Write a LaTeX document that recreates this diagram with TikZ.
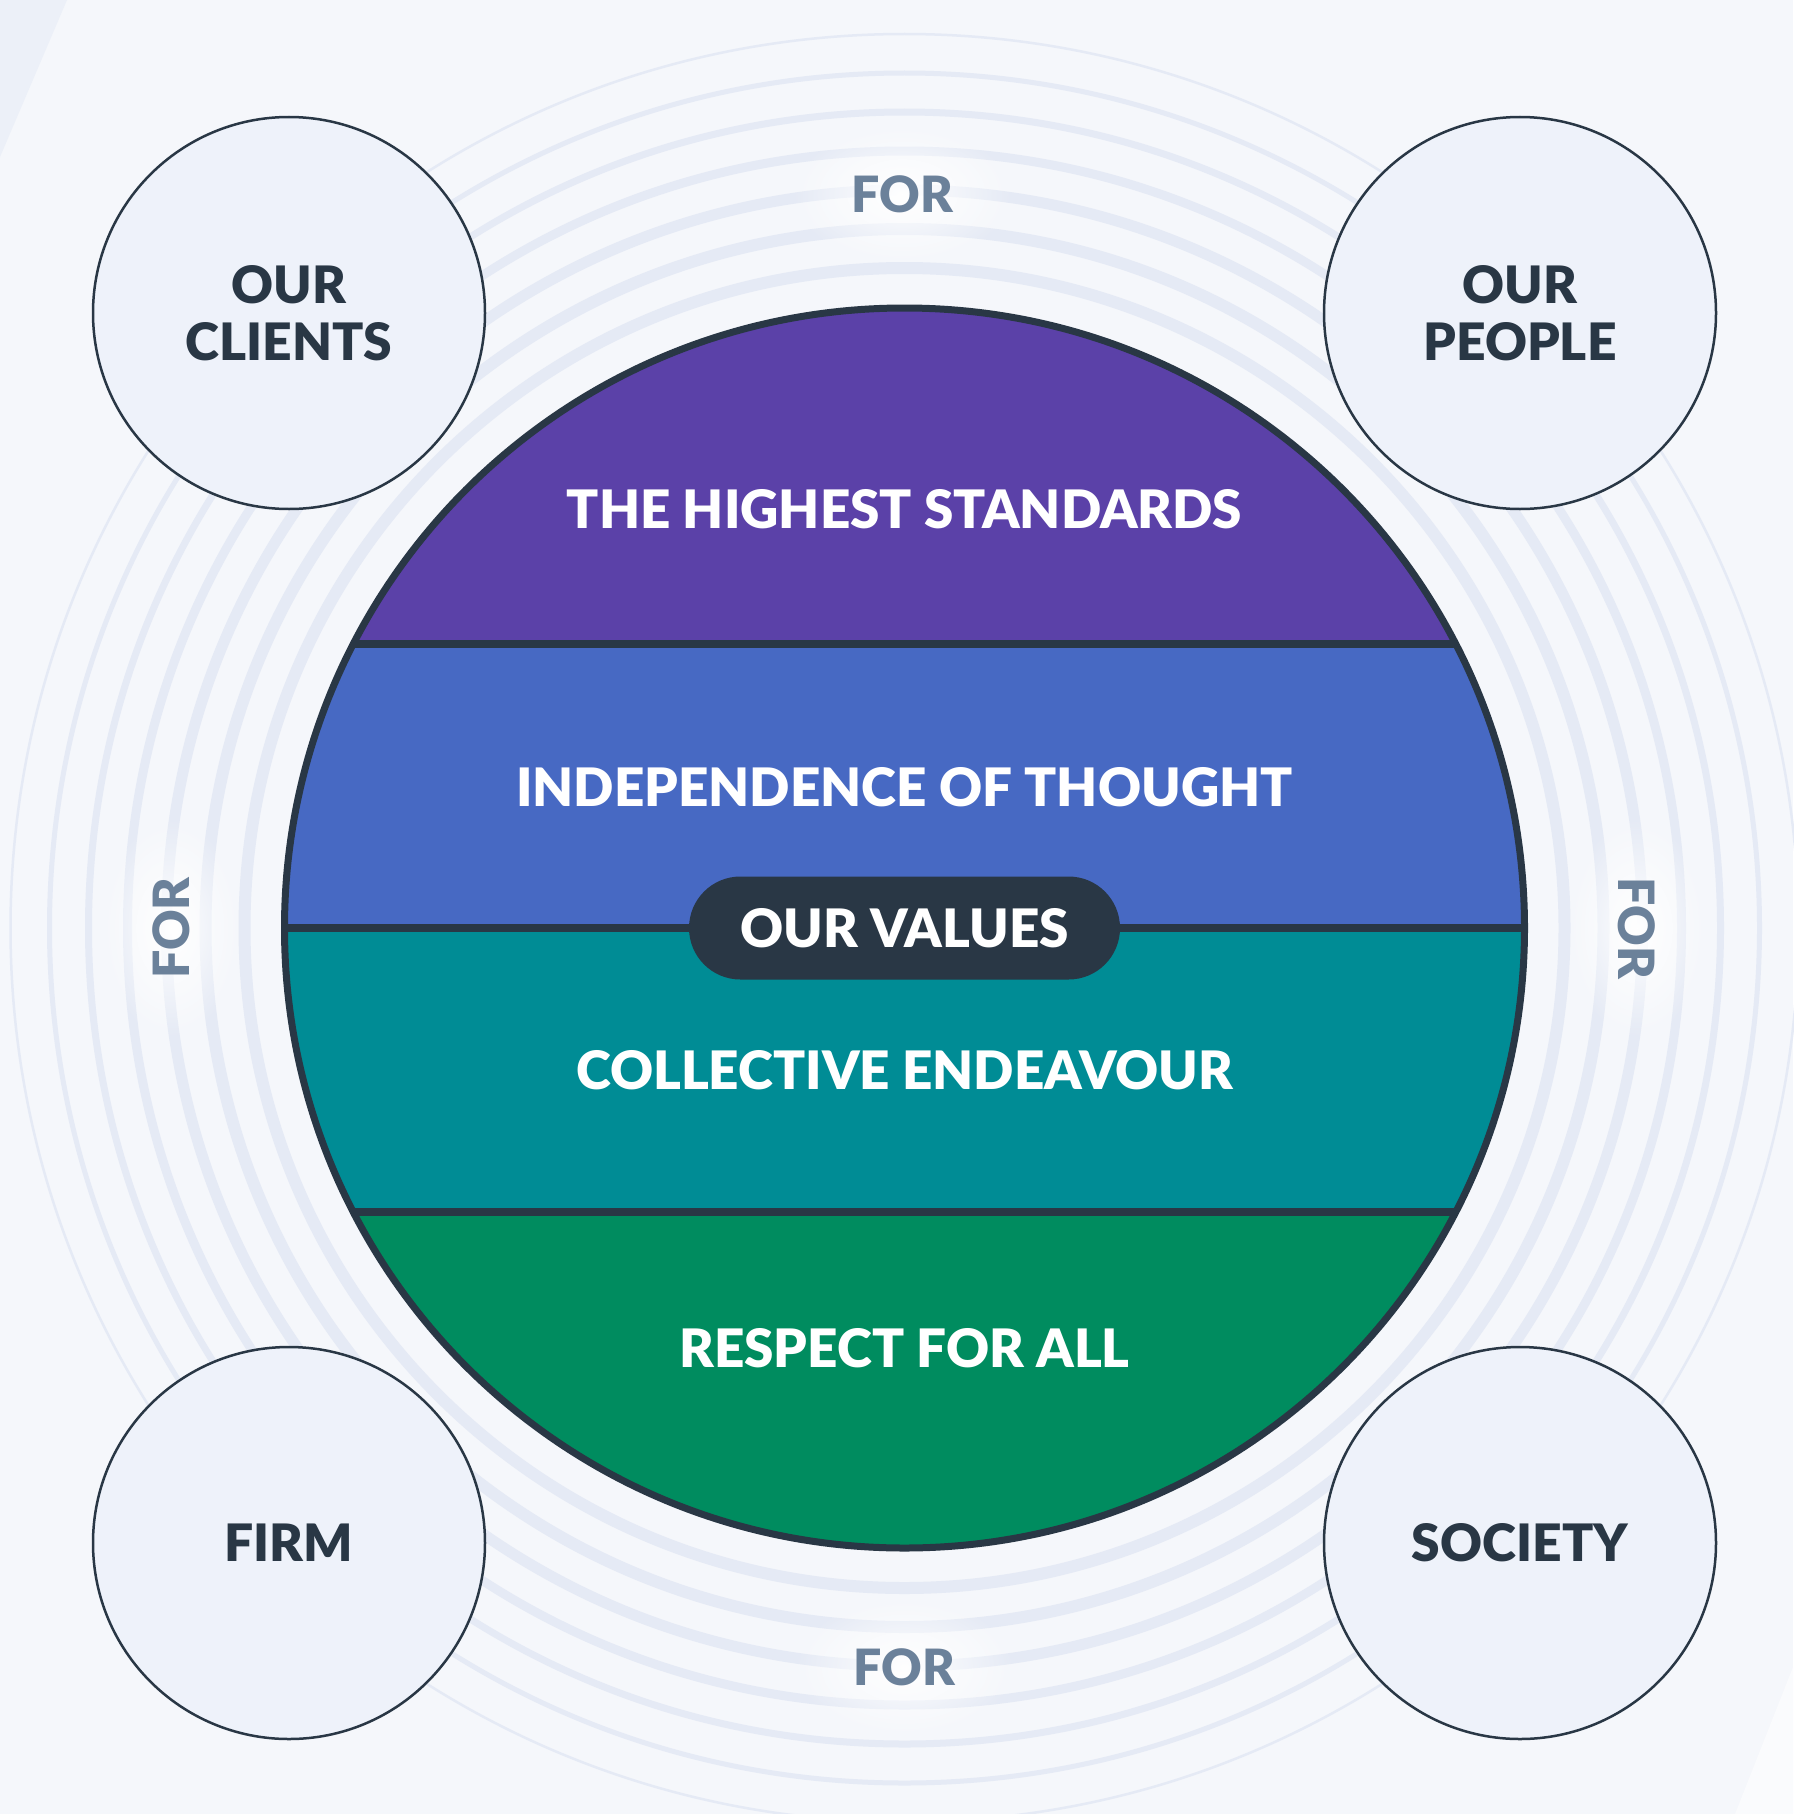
\documentclass[tikz,border=0pt]{standalone}
\usepackage{fontspec}
\setmainfont{Lato}[BoldFont={Lato Black}]
\usetikzlibrary{positioning}
\usetikzlibrary{fadings}

\definecolor{bgcol}{HTML}{F5F7FB}
\definecolor{cornerdark}{HTML}{ECF0F8}
\definecolor{cornerlight}{HTML}{FAFBFD}
\definecolor{ringcol}{HTML}{E5EAF5}
\definecolor{circfill}{HTML}{EEF2FA}
\definecolor{darkcol}{HTML}{293745}
\definecolor{forcol}{HTML}{6B819A}
\definecolor{purplecol}{HTML}{5B41A8}
\definecolor{bluecol}{HTML}{4769C3}
\definecolor{tealcol}{HTML}{008C95}
\definecolor{greencol}{HTML}{008C5F}

\tikzfading[name=glowfade, inner color=transparent!0, outer color=transparent!100]

\tikzset{
  groupcircle/.style={circle, draw=darkcol, line width=1.25pt, fill=circfill,
    minimum size=196pt, inner sep=0pt, align=center, text=darkcol,
    font=\fontsize{25.8}{28.3}\selectfont\bfseries},
  valuetext/.style={text=white, inner sep=0pt, font=\fontsize{26.5}{30}\selectfont\bfseries},
  forlabel/.style={text=forcol, inner sep=0pt, font=\fontsize{25}{30}\selectfont\bfseries},
  glow/.style={fill=white, path fading=glowfade},
}

\begin{document}
\begin{tikzpicture}[x=0.5pt, y=-0.5pt]
\useasboundingbox (0,0) rectangle (1793,1814);
% background and corners
\fill[bgcol] (0,0) rectangle (1793,1814);
\fill[cornerdark] (0,0) -- (67,0) -- (0,157) -- cycle;
\fill[cornerlight] (1793,1667) -- (1793,1814) -- (1735,1814) -- cycle;
\coordinate (C) at (904.5,928);
% rings
\foreach \r/\w in {660/6, 699/6, 738/5.5, 777/4.5, 816/3.5, 855/2.5, 894/1.25}
  \draw[ringcol, line width=\w pt] (C) circle (\r);
% glow behind the FOR labels
\fill[glow] (902,194) ellipse (110 and 70);
\fill[glow] (904.5,1667) ellipse (110 and 70);
\fill[glow] (171,928) ellipse (70 and 110);
\fill[glow] (1637,928) ellipse (70 and 110);
% value bands
\begin{scope}
\clip (C) circle (620);
\fill[purplecol] (280,300) rectangle (1530,644);
\fill[bluecol] (280,644) rectangle (1530,928);
\fill[tealcol] (280,928) rectangle (1530,1212);
\fill[greencol] (280,1212) rectangle (1530,1560);
\draw[darkcol, line width=4.3pt] (280,644) -- (1530,644);
\draw[darkcol, line width=4.3pt] (280,928) -- (1530,928);
\draw[darkcol, line width=4.3pt] (280,1212) -- (1530,1212);
\end{scope}
\draw[darkcol, line width=3.5pt] (C) circle (620);
\node[valuetext] (standards) at (904.5,509) {THE HIGHEST STANDARDS};
\node[valuetext] (independence) at (904.5,787) {INDEPENDENCE OF THOUGHT};
\node[valuetext] (collective) at (904.5,1070) {COLLECTIVE ENDEAVOUR};
\node[valuetext] (respect) at (904.5,1348) {RESPECT FOR ALL};
\node[valuetext, fill=darkcol, rounded corners=25.7pt, minimum width=215.5pt,
  minimum height=51.5pt] (values) at (C) {OUR VALUES};
% outer circles
\node[groupcircle] (clients) at (289,313) {OUR\\CLIENTS};
\node[groupcircle] (people) at (1520,313) {OUR\\PEOPLE};
\node[groupcircle] (firm) at (289,1543) {FIRM};
\node[groupcircle] (society) at (1520,1543) {SOCIETY};
% FOR labels
\node[forlabel] (fortop) at (902,194) {FOR};
\node[forlabel] (forbottom) at (904.5,1667) {FOR};
\node[forlabel, rotate=90] (forleft) at (171,928) {FOR};
\node[forlabel, rotate=-90] (forright) at (1637,928) {FOR};
\end{tikzpicture}
\end{document}
